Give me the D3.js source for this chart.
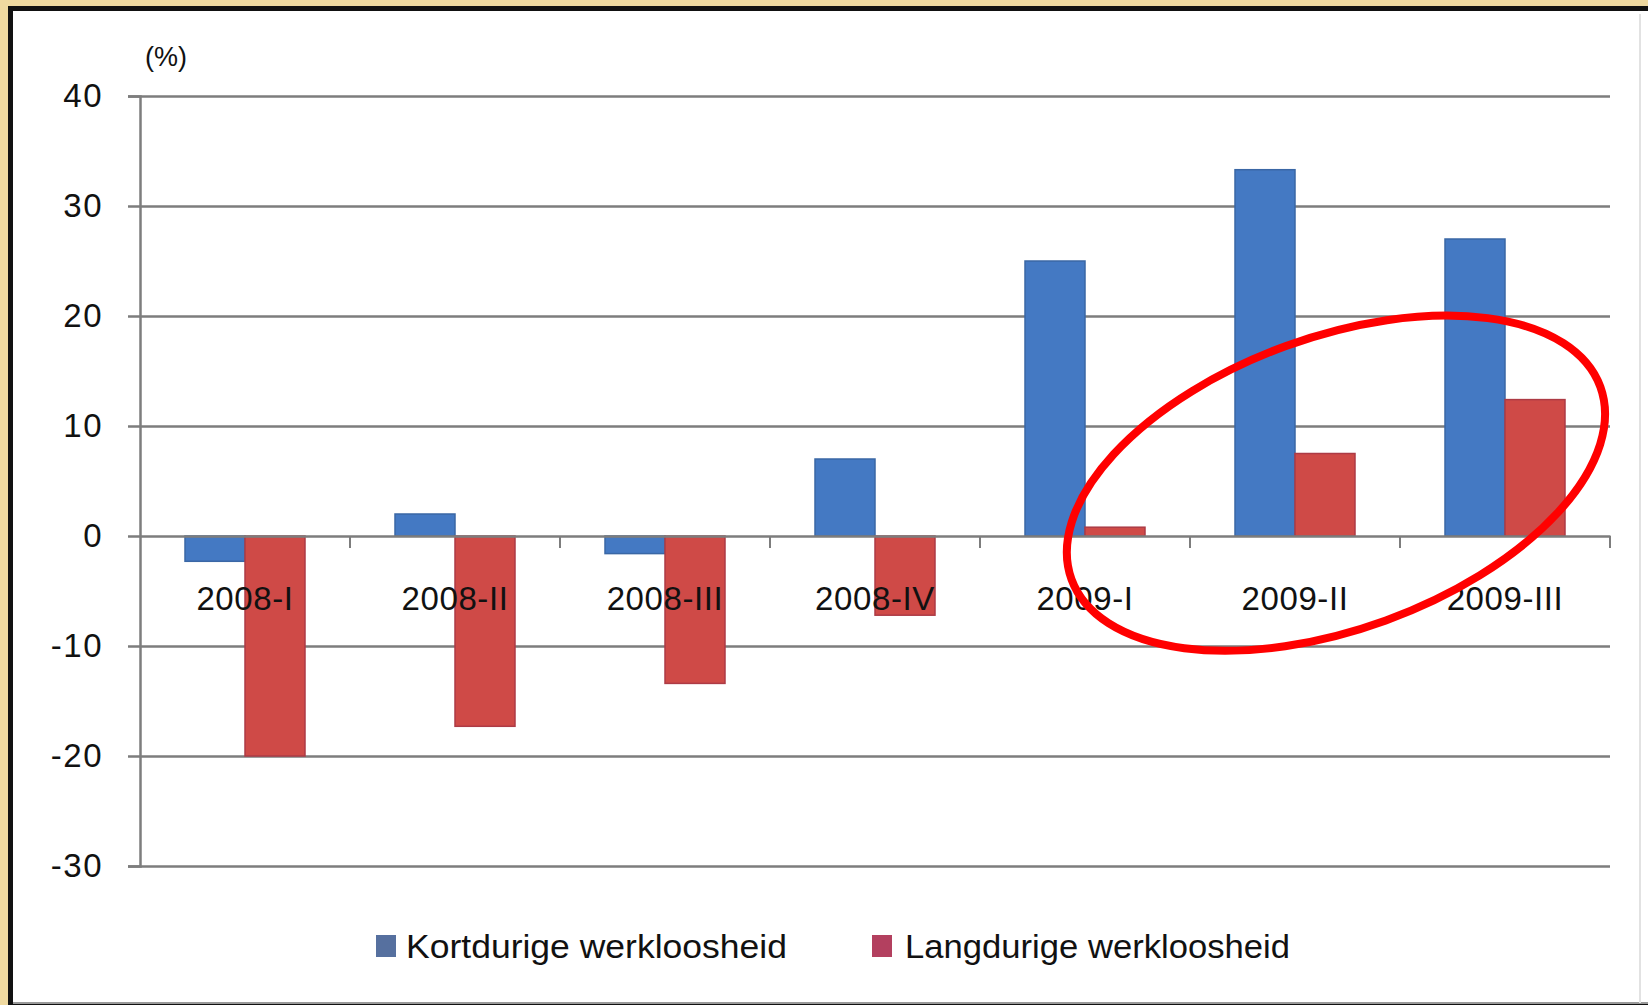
<!DOCTYPE html>
<html>
<head>
<meta charset="utf-8">
<script src="https://cdn.jsdelivr.net/npm/d3@7"></script>
<style>
  html, body { margin: 0; padding: 0; background: #efd9a0; }
  svg { display: block; }
  text { font-family: "Liberation Sans", "DejaVu Sans", sans-serif; fill: #111; }
</style>
</head>
<body>
<svg id="chart" width="1648" height="1005"></svg>
<script>
// ---- data ----
const categories = ["2008-I", "2008-II", "2008-III", "2008-IV", "2009-I", "2009-II", "2009-III"];
const seriesNames = ["Kortdurige werkloosheid", "Langdurige werkloosheid"];
const kortdurig = [-2.3, 2.0, -1.6, 7.0, 25.0, 33.3, 27.0];
const langdurig = [-20.0, -17.3, -13.4, -7.2, 0.8, 7.5, 12.4];
const yTicks = [-30, -20, -10, 0, 10, 20, 30, 40];
const yUnit = "(%)";

// ---- layout ----
const W = 1648, H = 1005;
const plot = { left: 140, right: 1610, top: 96, bottom: 866 };
const colors = { fill: ["#4479c3", "#cf4a47"], stroke: ["#3a67a5", "#ad3b45"], legend: ["#56709f", "#b3405f"] };

const svg = d3.select("#chart");

// frame
svg.append("rect").attr("x", 0).attr("y", 0).attr("width", W).attr("height", H).attr("fill", "#efd9a0");
svg.append("rect").attr("x", 8).attr("y", 6).attr("width", W - 8).attr("height", H - 6).attr("fill", "#111");
svg.append("rect").attr("x", 13).attr("y", 11).attr("width", W - 13).attr("height", H - 13).attr("fill", "#ffffff");
svg.append("line").attr("x1", 13).attr("x2", W).attr("y1", 1003).attr("y2", 1003).attr("stroke", "#9a9a9a").attr("stroke-width", 2);
svg.append("line").attr("x1", 1640).attr("x2", 1640).attr("y1", 14).attr("y2", 1003).attr("stroke", "#e2e2e2").attr("stroke-width", 2);

// scales
const y = d3.scaleLinear().domain([d3.min(yTicks), d3.max(yTicks)]).range([plot.bottom, plot.top]);
const x = d3.scaleBand().domain(categories).range([plot.left, plot.right]).paddingInner(0).paddingOuter(0);
const xs = d3.scaleBand().domain(seriesNames).range([0, x.bandwidth()]).paddingInner(0).paddingOuter(0.75);

// gridlines
const grid = svg.append("g").attr("transform", `translate(${plot.left},0)`)
  .call(d3.axisLeft(y).tickValues(yTicks.filter(t => t !== 0)).tickSize(-(plot.right - plot.left)).tickFormat(""));
grid.select(".domain").remove();
grid.selectAll("line").attr("stroke", "#7d7d7d").attr("stroke-width", 2.5);

// bars
const rows = categories.map((c, i) => ({ cat: c, values: [kortdurig[i], langdurig[i]] }));
const groups = svg.append("g").selectAll("g").data(rows).join("g")
  .attr("transform", d => `translate(${x(d.cat)},0)`);
groups.selectAll("rect").data(d => d.values.map((v, j) => ({ v, j, name: seriesNames[j] }))).join("rect")
  .attr("x", d => xs(d.name))
  .attr("width", xs.bandwidth())
  .attr("y", d => y(Math.max(0, d.v)))
  .attr("height", d => Math.abs(y(d.v) - y(0)))
  .attr("fill", d => colors.fill[d.j])
  .attr("stroke", d => colors.stroke[d.j])
  .attr("stroke-width", 1.5);

// y axis
const yAxis = svg.append("g").attr("transform", `translate(${plot.left},0)`)
  .call(d3.axisLeft(y).tickValues(yTicks).tickSize(12).tickPadding(25).tickFormat(d => String(d)));
yAxis.select(".domain").attr("stroke", "#7d7d7d").attr("stroke-width", 2.5);
yAxis.selectAll("line").attr("stroke", "#7d7d7d").attr("stroke-width", 2.5);
yAxis.selectAll("text").attr("font-size", 33).attr("letter-spacing", 1.5)
  .attr("font-family", "Liberation Sans, sans-serif").attr("fill", "#1a1a1a");

// x axis at zero
const xAxis = svg.append("g").attr("transform", `translate(0,${y(0)})`)
  .call(d3.axisBottom(x).tickSize(0).tickPadding(0));
xAxis.select(".domain").attr("stroke", "#7d7d7d").attr("stroke-width", 2.5);
xAxis.selectAll(".tick text").attr("font-size", 33).attr("letter-spacing", 0.6)
  .attr("dy", null).attr("y", 74).attr("font-family", "Liberation Sans, sans-serif").attr("fill", "#111");
// boundary ticks between categories
const bounds = categories.map(c => x(c) + x.bandwidth());
xAxis.append("g").selectAll("line").data(bounds).join("line")
  .attr("x1", d => d).attr("x2", d => d).attr("y1", 0).attr("y2", 12)
  .attr("stroke", "#7d7d7d").attr("stroke-width", 2);

// unit label
svg.append("text").attr("x", 145).attr("y", 66).attr("font-size", 27).text(yUnit);

// legend
const legendItems = [
  { name: seriesNames[0], sx: 376, tx: 406, len: 381 },
  { name: seriesNames[1], sx: 872, tx: 905, len: 385 }
];
const lg = svg.append("g");
legendItems.forEach((it, j) => {
  lg.append("rect").attr("x", it.sx).attr("y", 935).attr("width", 20).attr("height", 22).attr("fill", colors.legend[j]);
  lg.append("text").attr("x", it.tx).attr("y", 958).attr("font-size", 33)
    .attr("textLength", it.len).attr("lengthAdjust", "spacingAndGlyphs").text(it.name);
});

// red highlight ellipse around 2009-II / 2009-III
const ecx = x("2009-II") + x.bandwidth() * 0.695;
const ecy = y(4.8);
svg.append("ellipse")
  .attr("cx", ecx).attr("cy", ecy)
  .attr("rx", x.bandwidth() * 1.34).attr("ry", 146)
  .attr("transform", `rotate(-20,${ecx},${ecy})`)
  .attr("fill", "none").attr("stroke", "#ff0000").attr("stroke-width", 8);
</script>
</body>
</html>
